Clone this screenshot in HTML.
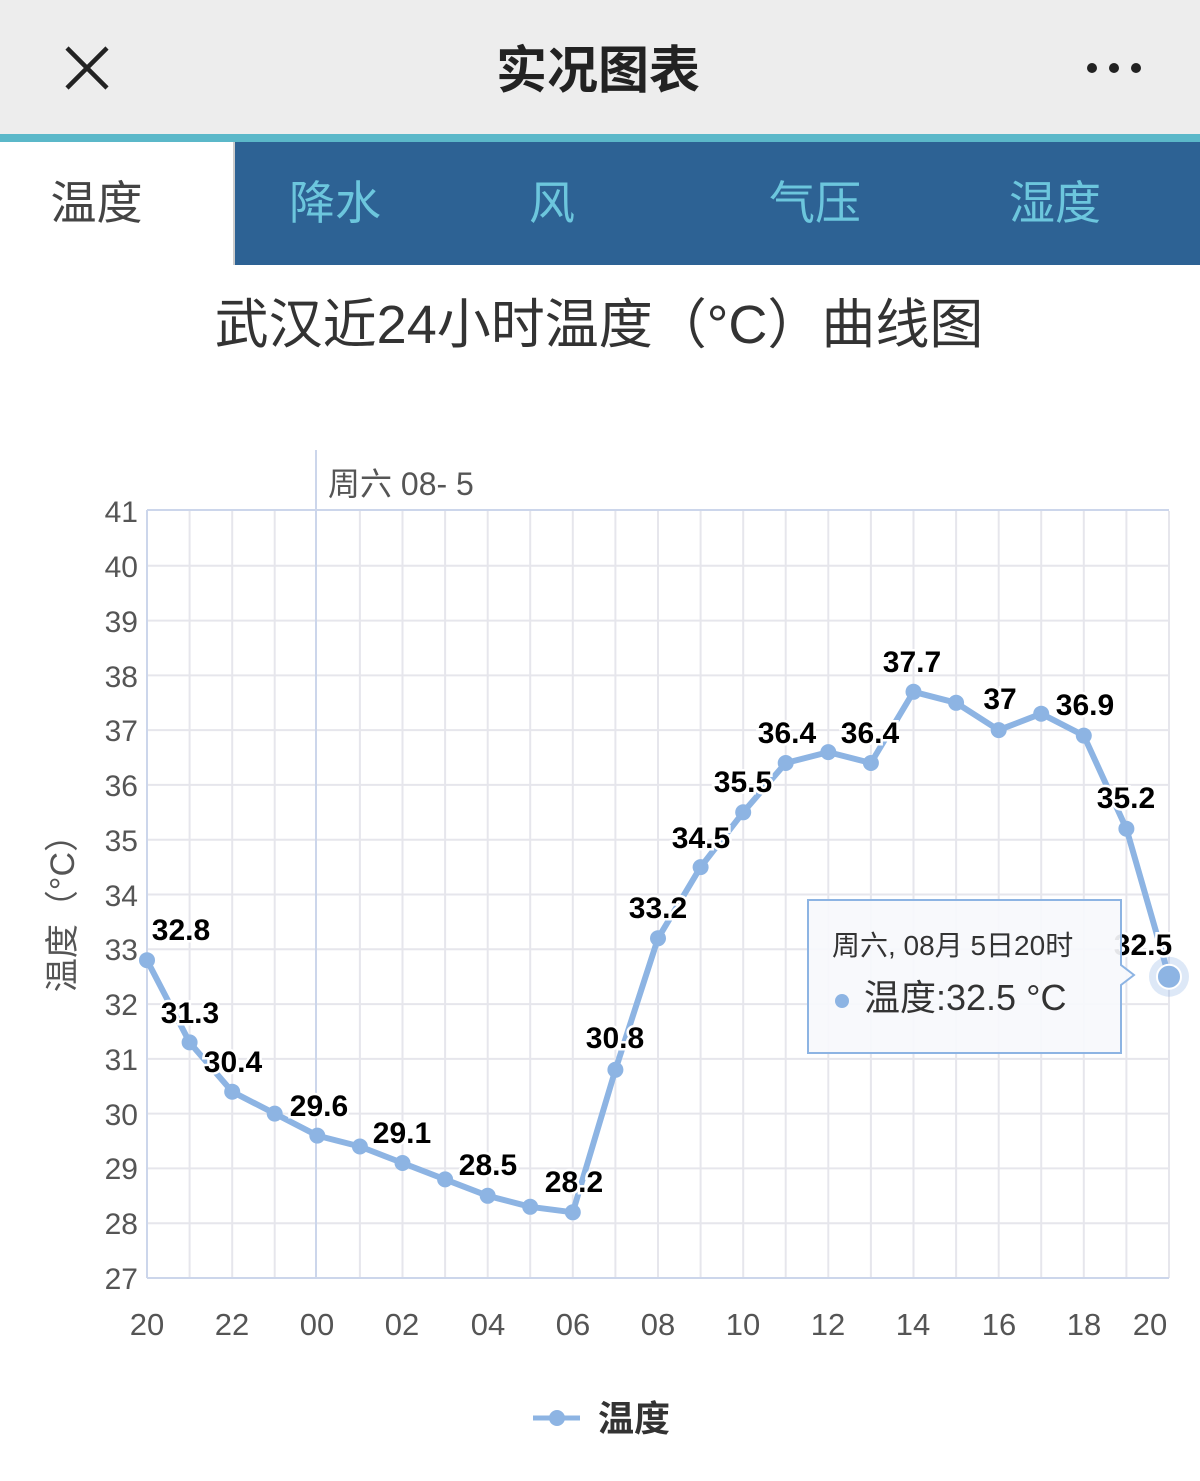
<!DOCTYPE html>
<html><head><meta charset="utf-8"><style>
html,body{margin:0;padding:0;width:1200px;height:1481px;background:#fff;overflow:hidden}
body{font-family:"Liberation Sans","Noto Sans CJK SC",sans-serif;position:relative}
.top{position:absolute;left:0;top:0;width:1200px;height:134px;background:#ededed}
.bar{position:absolute;left:0;top:134px;width:1200px;height:8px;background:#5bb8c9}
.tabs{position:absolute;left:0;top:142px;width:1200px;height:123px;background:#2d6294}
.tab{position:absolute;top:0;height:123px;line-height:123px;font-size:46px;color:#6cc6dd;text-align:center}
</style></head><body>
<div class="top"></div>
<svg style="position:absolute;left:0;top:0" width="1200" height="140">
<path d="M67 48 L107 88 M107 48 L67 88" stroke="#222" stroke-width="4.5"/>
<text x="598" y="88" font-size="51" font-weight="bold" text-anchor="middle" fill="#222" font-family="Noto Sans CJK SC,sans-serif">实况图表</text>
<circle cx="1092" cy="68" r="5" fill="#222"/><circle cx="1114" cy="68" r="5" fill="#222"/><circle cx="1136" cy="68" r="5" fill="#222"/>
</svg>
<div class="bar"></div>
<div class="tabs">
<div class="tab" style="left:0;width:193px;padding-right:40px;background:#fff;color:#444;border-right:2px solid #ccc">温度</div>
<div class="tab" style="left:235px;width:200px">降水</div>
<div class="tab" style="left:452px;width:200px">风</div>
<div class="tab" style="left:715px;width:200px">气压</div>
<div class="tab" style="left:955px;width:200px">湿度</div>
</div>
<svg style="position:absolute;left:0;top:0" width="1200" height="1481" font-family="Liberation Sans, Noto Sans CJK SC, sans-serif">
<text x="599" y="343" font-size="54" text-anchor="middle" fill="#333">武汉近24小时温度（°C）曲线图</text>
<g stroke="#e6e6ec" stroke-width="2">
<line x1="147" x2="1169" y1="565.8" y2="565.8"/><line x1="147" x2="1169" y1="620.6" y2="620.6"/><line x1="147" x2="1169" y1="675.4" y2="675.4"/><line x1="147" x2="1169" y1="730.1" y2="730.1"/><line x1="147" x2="1169" y1="784.9" y2="784.9"/><line x1="147" x2="1169" y1="839.7" y2="839.7"/><line x1="147" x2="1169" y1="894.5" y2="894.5"/><line x1="147" x2="1169" y1="949.3" y2="949.3"/><line x1="147" x2="1169" y1="1004.1" y2="1004.1"/><line x1="147" x2="1169" y1="1058.9" y2="1058.9"/><line x1="147" x2="1169" y1="1113.6" y2="1113.6"/><line x1="147" x2="1169" y1="1168.4" y2="1168.4"/><line x1="147" x2="1169" y1="1223.2" y2="1223.2"/>
<line y1="511" y2="1278" x1="189.6" x2="189.6"/><line y1="511" y2="1278" x1="232.2" x2="232.2"/><line y1="511" y2="1278" x1="274.7" x2="274.7"/><line y1="511" y2="1278" x1="359.9" x2="359.9"/><line y1="511" y2="1278" x1="402.5" x2="402.5"/><line y1="511" y2="1278" x1="445.1" x2="445.1"/><line y1="511" y2="1278" x1="487.7" x2="487.7"/><line y1="511" y2="1278" x1="530.2" x2="530.2"/><line y1="511" y2="1278" x1="572.8" x2="572.8"/><line y1="511" y2="1278" x1="615.4" x2="615.4"/><line y1="511" y2="1278" x1="658" x2="658"/><line y1="511" y2="1278" x1="700.6" x2="700.6"/><line y1="511" y2="1278" x1="743.2" x2="743.2"/><line y1="511" y2="1278" x1="785.7" x2="785.7"/><line y1="511" y2="1278" x1="828.3" x2="828.3"/><line y1="511" y2="1278" x1="870.9" x2="870.9"/><line y1="511" y2="1278" x1="913.5" x2="913.5"/><line y1="511" y2="1278" x1="956.1" x2="956.1"/><line y1="511" y2="1278" x1="998.7" x2="998.7"/><line y1="511" y2="1278" x1="1041.2" x2="1041.2"/><line y1="511" y2="1278" x1="1083.8" x2="1083.8"/><line y1="511" y2="1278" x1="1126.4" x2="1126.4"/><line y1="511" y2="1278" x1="1169" x2="1169"/>
</g>
<g stroke="#ccd6eb" stroke-width="2">
<line x1="147" x2="1169" y1="510" y2="510"/><line x1="147" x2="1169" y1="1278" y2="1278"/>
<line x1="147" x2="147" y1="510" y2="1278"/><line x1="316" x2="316" y1="450" y2="1278"/>
</g>
<text x="328" y="495" font-size="32" fill="#555">周六 08- 5</text>
<g font-size="30" fill="#555" text-anchor="end">
<text x="138" y="522">41</text><text x="138" y="577">40</text><text x="138" y="632">39</text><text x="138" y="687">38</text><text x="138" y="741">37</text><text x="138" y="796">36</text><text x="138" y="851">35</text><text x="138" y="906">34</text><text x="138" y="960">33</text><text x="138" y="1015">32</text><text x="138" y="1070">31</text><text x="138" y="1125">30</text><text x="138" y="1179">29</text><text x="138" y="1234">28</text><text x="138" y="1289">27</text>
</g>
<g font-size="31" fill="#555" text-anchor="middle">
<text x="147" y="1335">20</text><text x="232" y="1335">22</text><text x="317" y="1335">00</text><text x="402" y="1335">02</text><text x="488" y="1335">04</text><text x="573" y="1335">06</text><text x="658" y="1335">08</text><text x="743" y="1335">10</text><text x="828" y="1335">12</text><text x="913" y="1335">14</text><text x="999" y="1335">16</text><text x="1084" y="1335">18</text><text x="1150" y="1335">20</text>
</g>
<text transform="translate(74,905) rotate(-90)" font-size="34" fill="#555" text-anchor="middle">温度（°C）</text>
<polyline fill="none" stroke="#8db4e3" stroke-width="6" stroke-linejoin="round" stroke-linecap="round" points="147,960.2 189.6,1042.4 232.2,1091.7 274.7,1113.6 317.3,1135.6 359.9,1146.5 402.5,1163 445.1,1179.4 487.7,1195.8 530.2,1206.8 572.8,1212.3 615.4,1069.8 658,938.3 700.6,867.1 743.2,812.3 785.7,763 828.3,752.1 870.9,763 913.5,691.8 956.1,702.8 998.7,730.1 1041.2,713.7 1083.8,735.6 1126.4,828.7 1169,976.7"/>
<g fill="#8db4e3">
<circle cx="147" cy="960.2" r="8"/><circle cx="189.6" cy="1042.4" r="8"/><circle cx="232.2" cy="1091.7" r="8"/><circle cx="274.7" cy="1113.6" r="8"/><circle cx="317.3" cy="1135.6" r="8"/><circle cx="359.9" cy="1146.5" r="8"/><circle cx="402.5" cy="1163" r="8"/><circle cx="445.1" cy="1179.4" r="8"/><circle cx="487.7" cy="1195.8" r="8"/><circle cx="530.2" cy="1206.8" r="8"/><circle cx="572.8" cy="1212.3" r="8"/><circle cx="615.4" cy="1069.8" r="8"/><circle cx="658" cy="938.3" r="8"/><circle cx="700.6" cy="867.1" r="8"/><circle cx="743.2" cy="812.3" r="8"/><circle cx="785.7" cy="763" r="8"/><circle cx="828.3" cy="752.1" r="8"/><circle cx="870.9" cy="763" r="8"/><circle cx="913.5" cy="691.8" r="8"/><circle cx="956.1" cy="702.8" r="8"/><circle cx="998.7" cy="730.1" r="8"/><circle cx="1041.2" cy="713.7" r="8"/><circle cx="1083.8" cy="735.6" r="8"/><circle cx="1126.4" cy="828.7" r="8"/>
</g>
<circle cx="1169" cy="976.7" r="20" fill="#8db4e3" opacity="0.3"/>
<circle cx="1169" cy="976.7" r="12" fill="#8db4e3" stroke="#fff" stroke-width="2"/>
<g font-size="30" font-weight="bold" fill="#000" text-anchor="middle" stroke="#fff" stroke-width="5" paint-order="stroke">
<text x="181" y="940">32.8</text><text x="190" y="1023">31.3</text><text x="233" y="1072">30.4</text><text x="319" y="1116">29.6</text><text x="402" y="1143">29.1</text><text x="488" y="1175">28.5</text><text x="574" y="1192">28.2</text><text x="615" y="1048">30.8</text><text x="658" y="918">33.2</text><text x="701" y="848">34.5</text><text x="743" y="792">35.5</text><text x="787" y="743">36.4</text><text x="870" y="743">36.4</text><text x="912" y="672">37.7</text><text x="1000" y="709">37</text><text x="1085" y="715">36.9</text><text x="1126" y="808">35.2</text><text x="1143" y="955">32.5</text>
</g>
<g>
<path d="M808 900 H1121 V965 L1134 975 L1121 985 V1053 H808 Z" fill="#f7f9fc" fill-opacity="0.92" stroke="#8db4e3" stroke-width="2"/>
<text x="832" y="955" font-size="28" fill="#333">周六, 08月 5日20时</text>
<circle cx="842" cy="1001" r="7" fill="#8db4e3"/>
<text x="864" y="1010" font-size="36" fill="#333">温度:32.5 °C</text>
</g>
<line x1="533" x2="580" y1="1418" y2="1418" stroke="#8db4e3" stroke-width="5"/>
<circle cx="557" cy="1418" r="8" fill="#8db4e3"/>
<text x="598" y="1431" font-size="36" font-weight="bold" fill="#333">温度</text>
</svg>
</body></html>
